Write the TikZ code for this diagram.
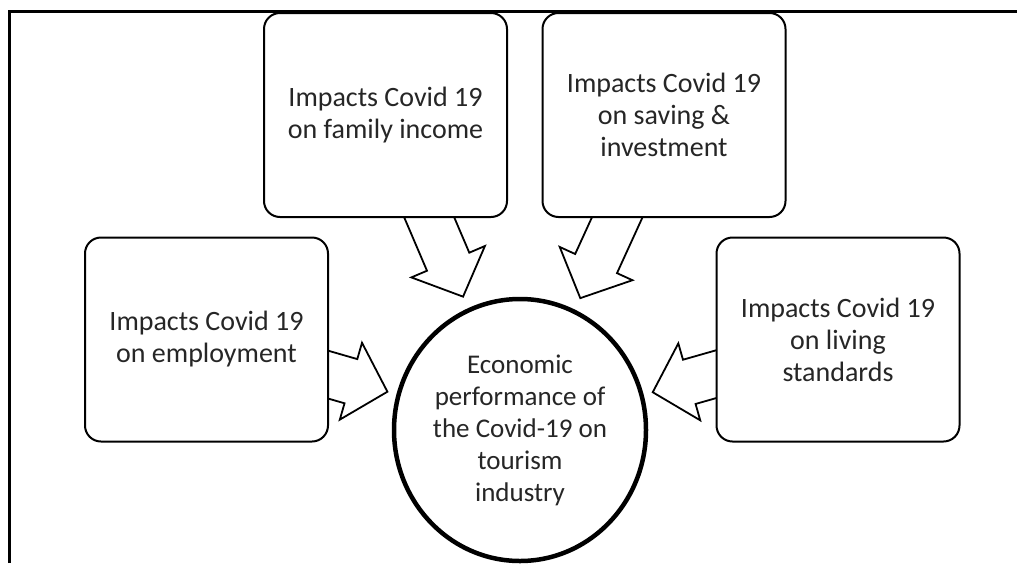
\documentclass[tikz,border=0pt]{standalone}
\usepackage{fontspec}
\setmainfont{Carlito}
\usetikzlibrary{calc,shapes.geometric}
\pgfdeclarelayer{bg}
\pgfsetlayers{bg,main}
\newcommand\impactarrow[3]{%
  \path coordinate (T) at ($(#2.center)!#3!(#1.center)$)
        coordinate (H) at ($(T)!38pt!(#1.center)$)
        coordinate (S) at ($(T)!110pt!(#1.center)$);
  \begin{pgfonlayer}{bg}
  \draw[blockarrow] ($(S)!23pt!90:(T)$) -- ($(H)!23pt!90:(T)$) -- ($(H)!40pt!90:(T)$)
     -- (T) -- ($(H)!40pt!-90:(T)$) -- ($(H)!23pt!-90:(T)$) -- ($(S)!23pt!-90:(T)$) -- cycle;
  \end{pgfonlayer}}
\begin{document}
\begin{tikzpicture}[x=1pt,y=-1pt,
  box/.style={draw, line width=2pt, rounded corners=16pt, fill=white,
    minimum width=243pt, minimum height=204pt, align=center, inner sep=0pt,
    font=\fontsize{28}{32}\selectfont, text=black!85},
  hub/.style={draw, ellipse, line width=4.5pt, fill=white,
    minimum width=252pt, minimum height=262pt, align=center, inner sep=0pt,
    font=\fontsize{27}{32}\selectfont, text=black!85},
  blockarrow/.style={draw, line width=1.8pt, fill=white, line join=miter}]
\useasboundingbox (0,0) rectangle (1017,563);
\draw[line width=3pt] (9,563) -- (9,11) -- (1017,11);

\node[box] (fam) at (385.5,115) {Impacts Covid 19\\on family income};
\node[box] (sav) at (664,115) {Impacts Covid 19\\on saving \&\\investment};
\node[box] (emp) at (206.5,339.5) {Impacts Covid 19\\on employment};
\node[box] (liv) at (838,339.5) {Impacts Covid 19\\on living\\standards};
\node[hub] (hub) at (520,430) {Economic\\performance of\\the Covid-19 on\\tourism\\industry};

\impactarrow{emp}{hub}{138pt}
\impactarrow{liv}{hub}{138pt}
\impactarrow{fam}{hub}{145pt}
\impactarrow{sav}{hub}{145pt}
\end{tikzpicture}
\end{document}
